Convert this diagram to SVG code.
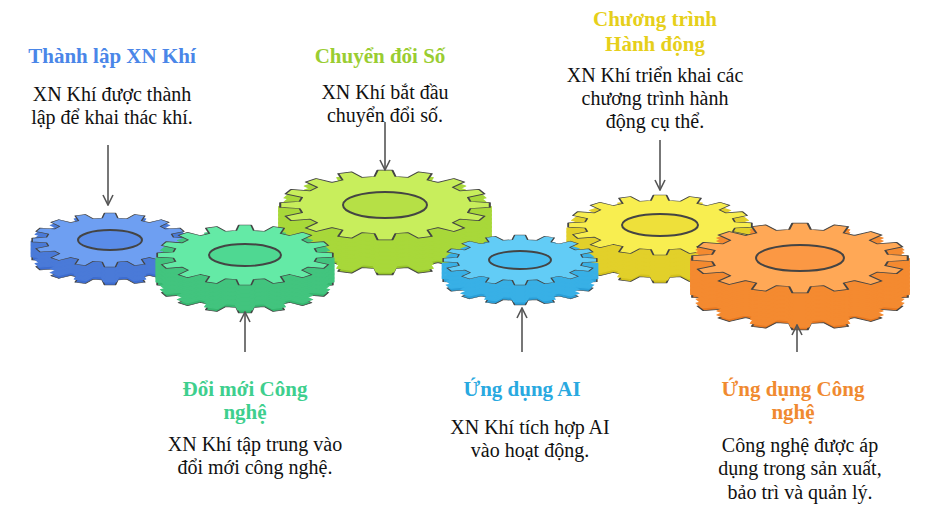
<svg xmlns="http://www.w3.org/2000/svg" xmlns:xlink="http://www.w3.org/1999/xlink" width="937" height="518" viewBox="0 0 937 518">
<style>
.t{font-family:"Liberation Serif","Times New Roman",serif;font-weight:bold;font-size:21px;text-anchor:middle}
.b{font-family:"Liberation Serif","Times New Roman",serif;font-size:20px;text-anchor:middle;fill:#111}
.s{stroke:#444;stroke-width:2;vector-effect:non-scaling-stroke;stroke-linejoin:round}
.f{stroke-width:4;vector-effect:non-scaling-stroke;stroke-linejoin:round}
.a{stroke:#555;stroke-width:1.6;fill:none}
</style>
<defs>
<path id="g" d="M99.8,7 L81.4,10 L79,21.9 L94.8,31.7 L89.5,44.6 L71.4,40.4 L64.6,50.5 L75.5,65.6 L65.6,75.5 L50.5,64.6 L40.4,71.4 L44.6,89.5 L31.7,94.8 L21.9,79 L10,81.4 L7,99.8 L-7,99.8 L-10,81.4 L-21.9,79 L-31.7,94.8 L-44.6,89.5 L-40.4,71.4 L-50.5,64.6 L-65.6,75.5 L-75.5,65.6 L-64.6,50.5 L-71.4,40.4 L-89.5,44.6 L-94.8,31.7 L-79,21.9 L-81.4,10 L-99.8,7 L-99.8,-7 L-81.4,-10 L-79,-21.9 L-94.8,-31.7 L-89.5,-44.6 L-71.4,-40.4 L-64.6,-50.5 L-75.5,-65.6 L-65.6,-75.5 L-50.5,-64.6 L-40.4,-71.4 L-44.6,-89.5 L-31.7,-94.8 L-21.9,-79 L-10,-81.4 L-7,-99.8 L7,-99.8 L10,-81.4 L21.9,-79 L31.7,-94.8 L44.6,-89.5 L40.4,-71.4 L50.5,-64.6 L65.6,-75.5 L75.5,-65.6 L64.6,-50.5 L71.4,-40.4 L89.5,-44.6 L94.8,-31.7 L79,-21.9 L81.4,-10 L99.8,-7 Z"/>
<marker id="m" viewBox="0 0 12 12" refX="11" refY="6" markerWidth="12" markerHeight="12" markerUnits="userSpaceOnUse" orient="auto"><polyline points="1,1 11,6 1,11" fill="none" stroke="#555" stroke-width="1.6"/></marker>
</defs>

<g id="gear-chuyendoi">
<use href="#g" class="s" fill="#96c42a" transform="translate(385,240) scale(1.05,0.35)"/>
<g fill="#a8d83a" stroke="#a8d83a">
<use href="#g" class="f" transform="translate(385,237) scale(1.05,0.35)"/>
<use href="#g" class="f" transform="translate(385,233) scale(1.05,0.35)"/>
<use href="#g" class="f" transform="translate(385,229) scale(1.05,0.35)"/>
<use href="#g" class="f" transform="translate(385,225) scale(1.05,0.35)"/>
<use href="#g" class="f" transform="translate(385,221) scale(1.05,0.35)"/>
<use href="#g" class="f" transform="translate(385,217) scale(1.05,0.35)"/>
<use href="#g" class="f" transform="translate(385,213) scale(1.05,0.35)"/>
<use href="#g" class="f" transform="translate(385,209) scale(1.05,0.35)"/>
</g>
<use href="#g" class="s" fill="#c8ee5c" transform="translate(385,205) scale(1.05,0.35)"/>
<ellipse cx="385" cy="205" rx="42" ry="13" fill="#b6e046" stroke="#444" stroke-width="2"/>
</g>
<g id="gear-thanhlap">
<use href="#g" class="s" fill="#3d6cd0" transform="translate(110,258) scale(0.78,0.27)"/>
<g fill="#4a7ad8" stroke="#4a7ad8">
<use href="#g" class="f" transform="translate(110,255) scale(0.78,0.27)"/>
<use href="#g" class="f" transform="translate(110,251) scale(0.78,0.27)"/>
<use href="#g" class="f" transform="translate(110,247) scale(0.78,0.27)"/>
<use href="#g" class="f" transform="translate(110,243) scale(0.78,0.27)"/>
</g>
<use href="#g" class="s" fill="#6e9ff2" transform="translate(110,240) scale(0.78,0.27)"/>
<ellipse cx="110" cy="240" rx="32" ry="10" fill="#5a8ce8" stroke="#444" stroke-width="2"/>
</g>
<g id="gear-doimoi">
<use href="#g" class="s" fill="#36b870" transform="translate(245,283) scale(0.88,0.3)"/>
<g fill="#42c47e" stroke="#42c47e">
<use href="#g" class="f" transform="translate(245,280) scale(0.88,0.3)"/>
<use href="#g" class="f" transform="translate(245,276) scale(0.88,0.3)"/>
<use href="#g" class="f" transform="translate(245,272) scale(0.88,0.3)"/>
<use href="#g" class="f" transform="translate(245,268) scale(0.88,0.3)"/>
<use href="#g" class="f" transform="translate(245,264) scale(0.88,0.3)"/>
<use href="#g" class="f" transform="translate(245,260) scale(0.88,0.3)"/>
</g>
<use href="#g" class="s" fill="#64eaa6" transform="translate(245,255) scale(0.88,0.3)"/>
<ellipse cx="245" cy="255" rx="36" ry="11" fill="#4fd892" stroke="#444" stroke-width="2"/>
</g>
<g id="gear-chuongtrinh">
<use href="#g" class="s" fill="#d4c21c" transform="translate(660,253) scale(0.92,0.3)"/>
<g fill="#e2d02a" stroke="#e2d02a">
<use href="#g" class="f" transform="translate(660,250) scale(0.92,0.3)"/>
<use href="#g" class="f" transform="translate(660,246) scale(0.92,0.3)"/>
<use href="#g" class="f" transform="translate(660,242) scale(0.92,0.3)"/>
<use href="#g" class="f" transform="translate(660,238) scale(0.92,0.3)"/>
<use href="#g" class="f" transform="translate(660,234) scale(0.92,0.3)"/>
<use href="#g" class="f" transform="translate(660,230) scale(0.92,0.3)"/>
</g>
<use href="#g" class="s" fill="#f8ee50" transform="translate(660,225) scale(0.92,0.3)"/>
<ellipse cx="660" cy="225" rx="38" ry="11" fill="#eee03a" stroke="#444" stroke-width="2"/>
</g>
<g id="gear-ai">
<use href="#g" class="s" fill="#2a9fd8" transform="translate(520,280) scale(0.77,0.25)"/>
<g fill="#38b0e6" stroke="#38b0e6">
<use href="#g" class="f" transform="translate(520,277) scale(0.77,0.25)"/>
<use href="#g" class="f" transform="translate(520,273) scale(0.77,0.25)"/>
<use href="#g" class="f" transform="translate(520,269) scale(0.77,0.25)"/>
<use href="#g" class="f" transform="translate(520,265) scale(0.77,0.25)"/>
</g>
<use href="#g" class="s" fill="#62ccf6" transform="translate(520,260) scale(0.77,0.25)"/>
<ellipse cx="520" cy="260" rx="31" ry="9" fill="#48bdf0" stroke="#444" stroke-width="2"/>
</g>
<g id="gear-ungdung">
<use href="#g" class="s" fill="#e87820" transform="translate(800,295) scale(1.08,0.35)"/>
<g fill="#f48a30" stroke="#f48a30">
<use href="#g" class="f" transform="translate(800,292) scale(1.08,0.35)"/>
<use href="#g" class="f" transform="translate(800,288) scale(1.08,0.35)"/>
<use href="#g" class="f" transform="translate(800,284) scale(1.08,0.35)"/>
<use href="#g" class="f" transform="translate(800,280) scale(1.08,0.35)"/>
<use href="#g" class="f" transform="translate(800,276) scale(1.08,0.35)"/>
<use href="#g" class="f" transform="translate(800,272) scale(1.08,0.35)"/>
<use href="#g" class="f" transform="translate(800,268) scale(1.08,0.35)"/>
<use href="#g" class="f" transform="translate(800,264) scale(1.08,0.35)"/>
<use href="#g" class="f" transform="translate(800,261) scale(1.08,0.35)"/>
</g>
<use href="#g" class="s" fill="#ffa856" transform="translate(800,258) scale(1.08,0.35)"/>
<ellipse cx="800" cy="258" rx="44" ry="13" fill="#fb9844" stroke="#444" stroke-width="2"/>
</g>

<g id="connectors">
<line class="a" x1="108" y1="145" x2="108" y2="205" marker-end="url(#m)"/>
<line class="a" x1="385" y1="122" x2="385" y2="170" marker-end="url(#m)"/>
<line class="a" x1="660" y1="140" x2="660" y2="190" marker-end="url(#m)"/>
<line class="a" x1="245" y1="352" x2="245" y2="312" marker-end="url(#m)"/>
<line class="a" x1="522" y1="352" x2="522" y2="308" marker-end="url(#m)"/>
<line class="a" x1="797" y1="352" x2="797" y2="325" marker-end="url(#m)"/>
</g>

<g id="labels">
<text class="t" x="112" y="63" fill="#4a86e8">Thành lập XN Khí</text>
<text class="b" x="112" y="101">XN Khí được thành</text>
<text class="b" x="112" y="124">lập để khai thác khí.</text>
<text class="t" x="380" y="63" fill="#9acd32">Chuyển đổi Số</text>
<text class="b" x="385" y="99">XN Khí bắt đầu</text>
<text class="b" x="385" y="122">chuyển đổi số.</text>
<text class="t" x="655" y="26" fill="#e6cf1a">Chương trình</text>
<text class="t" x="655" y="51" fill="#e6cf1a">Hành động</text>
<text class="b" x="655" y="82">XN Khí triển khai các</text>
<text class="b" x="655" y="105">chương trình hành</text>
<text class="b" x="655" y="128">động cụ thể.</text>
<text class="t" x="245" y="396" fill="#3ecf8e">Đổi mới Công</text>
<text class="t" x="245" y="419" fill="#3ecf8e">nghệ</text>
<text class="b" x="255" y="451">XN Khí tập trung vào</text>
<text class="b" x="255" y="474">đổi mới công nghệ.</text>
<text class="t" x="522" y="396" fill="#29a9e0">Ứng dụng AI</text>
<text class="b" x="530" y="434">XN Khí tích hợp AI</text>
<text class="b" x="530" y="457">vào hoạt động.</text>
<text class="t" x="793" y="396" fill="#f08a30">Ứng dụng Công</text>
<text class="t" x="793" y="419" fill="#f08a30">nghệ</text>
<text class="b" x="800" y="452">Công nghệ được áp</text>
<text class="b" x="800" y="475">dụng trong sản xuất,</text>
<text class="b" x="800" y="499">bảo trì và quản lý.</text>
</g>
</svg>
